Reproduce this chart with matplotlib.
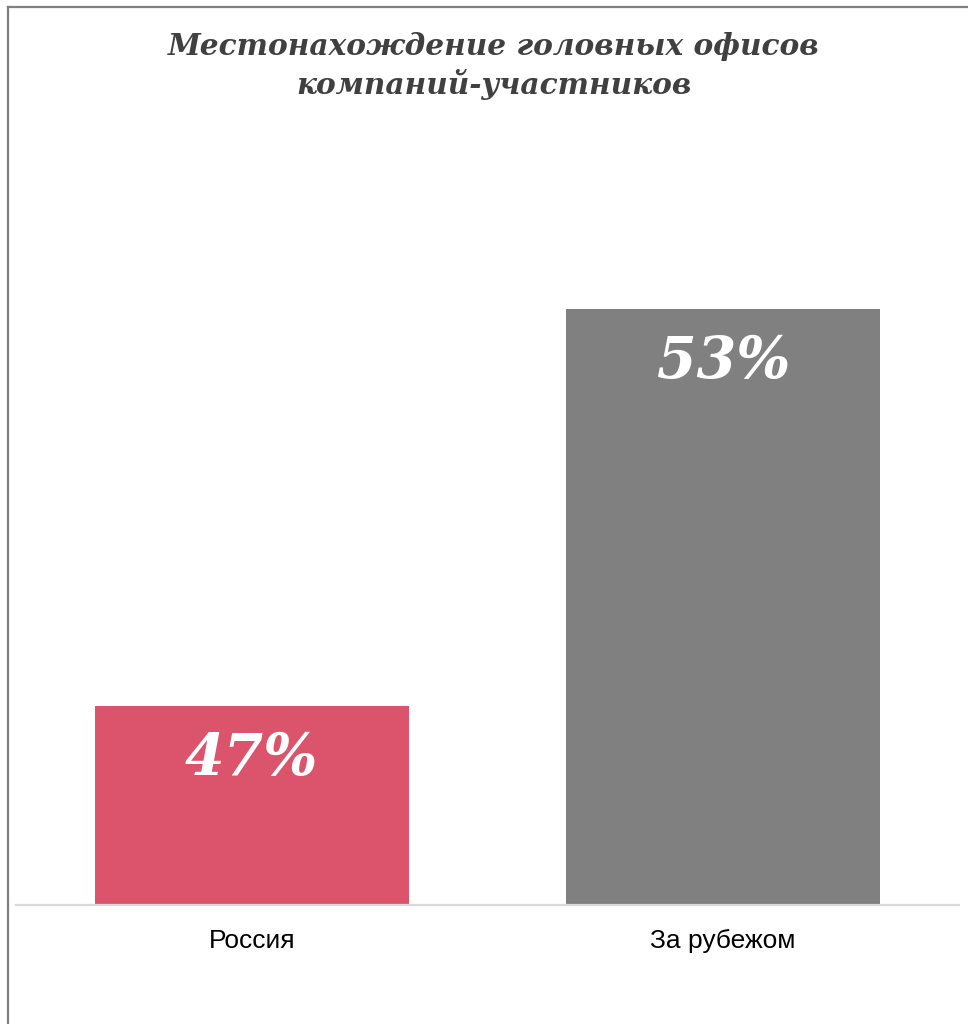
import matplotlib
matplotlib.use("Agg")
import matplotlib.pyplot as plt
from matplotlib.lines import Line2D

categories = ["Россия", "За рубежом"]
values = [47, 53]
labels = ["47%", "53%"]
colors = ["#dc546c", "#808080"]
title = "Местонахождение головных офисов\nкомпаний-участников"

W, H = 968, 1024
fig = plt.figure(figsize=(W / 100, H / 100), dpi=100)
fig.patch.set_facecolor("white")

# axes: left 16px, right 959px, bottom 905px, top 130px
ax = fig.add_axes([16 / W, 1 - 905 / H, (959 - 16) / W, (905 - 130) / H])
ax.set_facecolor("none")
x = list(range(len(categories)))
bars = ax.bar(x, values, width=0.667, color=colors, zorder=2)
ax.set_xlim(-0.5, 1.5)
ax.set_ylim(44, 55.71)
for s in ["top", "right", "left"]:
    ax.spines[s].set_visible(False)
ax.spines["bottom"].set_color("#d9d9d9")
ax.spines["bottom"].set_linewidth(1.6)
ax.spines["bottom"].set_zorder(3)
ax.set_yticks([])
ax.set_xticks(x)
ax.set_xticklabels(categories, fontfamily="Liberation Sans", fontsize=19, color="black")
ax.tick_params(axis="x", length=0, pad=17)

for xi, v, lab in zip(x, values, labels):
    ax.annotate(lab, (xi, v), xytext=(0, -38), textcoords="offset points",
                ha="center", va="center", color="white", fontsize=41,
                fontfamily="DejaVu Serif", fontweight="bold", fontstyle="italic",
                zorder=4)

fig.text(494 / W, 1 - 66 / H, title, ha="center", va="center",
         fontfamily="DejaVu Serif", fontweight="bold", fontstyle="italic",
         fontsize=21.3, color="#404040", linespacing=1.3)

# chart border (left and top)
fig.add_artist(Line2D([7.5 / W, 7.5 / W], [0, 1 - 6.5 / H], transform=fig.transFigure,
                      color="#7f7f7f", lw=1.6))
fig.add_artist(Line2D([7.5 / W, 1], [1 - 6.5 / H, 1 - 6.5 / H], transform=fig.transFigure,
                      color="#7f7f7f", lw=1.6))

fig.savefig("out.png", dpi=100)
